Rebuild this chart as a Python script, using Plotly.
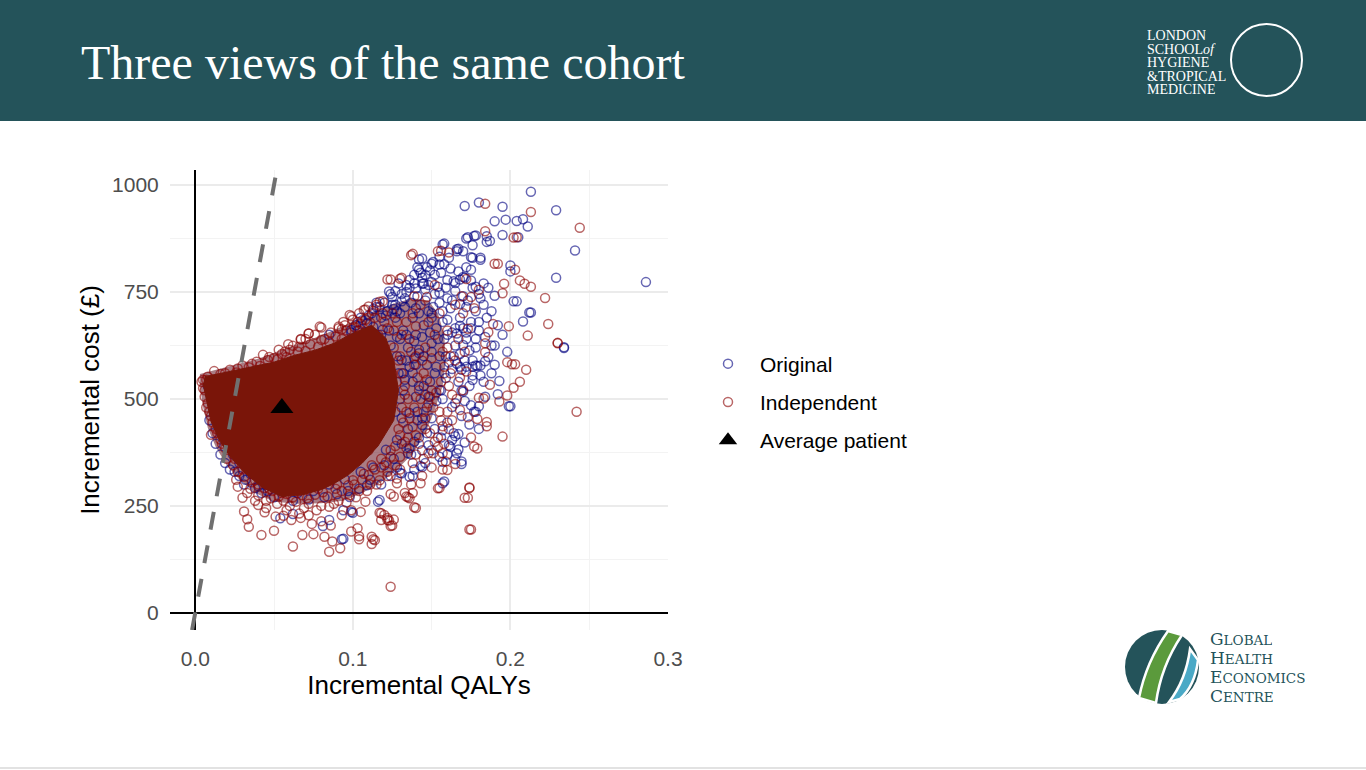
import plotly.graph_objects as go

# ---- data ----
# (incremental QALYs, incremental cost in £)
original_pts = [
    (0.213, 984), (0.171, 951), (0.180, 959), (0.195, 949), (0.229, 941), (0.190, 915), (0.197, 919),
    (0.204, 916), (0.208, 920), (0.211, 903), (0.172, 875), (0.177, 881), (0.195, 883), (0.185, 880),
    (0.187, 869), (0.185, 867), (0.205, 878), (0.157, 861), (0.166, 850), (0.170, 845), (0.176, 859),
    (0.241, 847), (0.229, 783), (0.286, 773), (0.200, 812), (0.200, 798), (0.176, 830), (0.181, 830),
    (0.181, 825), (0.190, 741), (0.202, 728), (0.204, 728), (0.212, 702), (0.213, 702), (0.208, 681),
    (0.234, 619), (0.142, 826), (0.142, 802), (0.150, 816), (0.155, 814), (0.161, 830), (0.166, 845),
    (0.167, 798), (0.172, 808), (0.175, 802), (0.171, 783), (0.164, 775), (0.168, 779), (0.159, 760),
    (0.155, 748), (0.148, 766), (0.144, 783), (0.146, 756), (0.139, 790), (0.145, 770), (0.152, 745),
    (0.160, 735), (0.165, 752), (0.170, 740), (0.176, 760), (0.180, 745), (0.183, 720), (0.178, 705),
    (0.172, 715), (0.162, 712), (0.155, 725), (0.148, 705), (0.141, 740), (0.136, 760), (0.133, 735),
    (0.140, 712), (0.150, 690), (0.160, 685), (0.168, 690), (0.175, 680), (0.185, 690), (0.188, 705),
    (0.192, 672), (0.180, 660), (0.170, 665), (0.163, 655), (0.153, 665), (0.145, 672), (0.138, 690),
    (0.130, 700), (0.127, 720), (0.132, 660), (0.140, 650), (0.158, 640), (0.172, 640), (0.184, 645),
    (0.195, 650), (0.190, 625), (0.178, 620), (0.165, 625), (0.150, 630), (0.142, 615), (0.155, 600),
    (0.168, 605), (0.176, 590), (0.186, 598), (0.198, 610), (0.178, 882), (0.173, 878), (0.158, 863),
    (0.167, 851), (0.175, 831), (0.144, 828), (0.141, 808), (0.147, 808), (0.151, 820), (0.155, 832),
    (0.134, 766), (0.134, 750), (0.140, 758), (0.144, 769), (0.125, 738), (0.115, 715), (0.125, 720),
    (0.131, 728), (0.128, 705), (0.099, 655), (0.103, 660), (0.108, 656), (0.115, 648), (0.119, 662),
    (0.150, 773), (0.154, 762), (0.160, 778), (0.165, 771), (0.170, 785), (0.175, 777), (0.178, 762),
    (0.234, 621), (0.193, 542), (0.192, 511), (0.184, 505), (0.199, 483), (0.200, 483), (0.180, 483),
    (0.178, 470), (0.167, 418), (0.171, 398), (0.167, 382), (0.161, 392), (0.163, 404), (0.165, 413),
    (0.157, 353), (0.165, 359), (0.169, 348), (0.157, 303), (0.143, 343), (0.139, 335), (0.169, 519),
    (0.170, 517), (0.181, 578), (0.179, 577), (0.176, 575), (0.188, 625), (0.181, 555), (0.166, 582),
    (0.168, 575), (0.148, 392), (0.144, 380), (0.135, 373), (0.159, 599), (0.166, 653), (0.176, 544),
    (0.177, 470), (0.169, 354), (0.166, 373), (0.164, 420), (0.158, 307), (0.100, 234), (0.094, 173),
    (0.085, 650), (0.109, 677), (0.099, 661), (0.115, 725), (0.123, 751), (0.093, 172), (0.081, 203),
    (0.085, 217), (0.094, 240), (0.099, 236), (0.054, 221), (0.062, 231), (0.116, 260), (0.025, 330),
    (0.032, 311), (0.040, 296), (0.046, 285), (0.131, 326), (0.136, 318), (0.163, 481), (0.157, 427),
    (0.162, 388), (0.144, 341), (0.130, 327), (0.117, 264), (0.144, 439), (0.136, 467), (0.148, 505),
    (0.155, 521), (0.138, 561), (0.131, 591), (0.142, 607), (0.153, 575), (0.159, 549), (0.128, 404),
    (0.121, 381), (0.111, 311), (0.098, 271), (0.150, 700), (0.157, 680), (0.168, 671), (0.172, 655),
    (0.178, 640), (0.170, 626), (0.174, 613), (0.164, 600), (0.171, 590), (0.178, 578), (0.169, 568),
    (0.176, 555), (0.012, 470), (0.015, 440), (0.018, 420), (0.021, 398), (0.024, 370), (0.028, 350),
    (0.035, 325), (0.045, 300), (0.055, 285), (0.065, 280), (0.075, 285), (0.085, 300), (0.095, 312),
    (0.105, 330), (0.010, 505), (0.008, 530), (0.105, 690), (0.112, 700), (0.118, 690), (0.122, 705),
    (0.127, 690), (0.110, 640), (0.117, 630), (0.124, 625), (0.130, 640), (0.135, 620), (0.128, 600),
    (0.134, 590), (0.140, 580), (0.132, 560), (0.138, 540), (0.145, 530), (0.140, 505), (0.132, 520),
    (0.147, 480), (0.150, 455), (0.141, 450), (0.135, 430), (0.152, 430), (0.142, 410), (0.131, 395),
    (0.137, 370), (0.126, 360), (0.120, 345), (0.113, 340), (0.102, 672), (0.106, 684), (0.110, 695),
    (0.113, 710), (0.117, 715), (0.120, 725), (0.124, 745), (0.127, 752), (0.131, 745), (0.129, 770),
    (0.136, 778), (0.139, 770), (0.143, 795), (0.146, 790), (0.149, 800), (0.152, 790), (0.156, 795),
    (0.162, 805), (0.158, 815), (0.121, 695), (0.126, 710), (0.133, 715), (0.137, 725), (0.142, 700),
    (0.146, 730), (0.151, 715), (0.157, 705), (0.163, 730), (0.168, 722), (0.173, 730), (0.181, 735),
    (0.186, 760), (0.183, 770), (0.113, 668), (0.118, 650), (0.123, 660), (0.128, 645), (0.134, 650),
    (0.139, 635), (0.144, 645), (0.149, 655), (0.154, 640), (0.160, 650), (0.165, 665), (0.175, 665),
    (0.180, 680), (0.145, 600), (0.150, 610), (0.147, 580), (0.152, 560), (0.158, 560), (0.163, 570),
    (0.161, 585), (0.172, 575), (0.184, 588), (0.190, 580), (0.188, 560), (0.183, 540), (0.174, 530),
    (0.167, 540), (0.157, 500), (0.165, 490), (0.171, 495), (0.175, 485), (0.169, 460), (0.174, 440),
    (0.180, 430), (0.160, 445), (0.156, 410), (0.150, 380), (0.155, 365), (0.160, 370), (0.146, 350),
    (0.138, 320), (0.128, 340), (0.124, 320), (0.118, 300), (0.109, 298), (0.104, 290), (0.097, 285),
    (0.090, 278), (0.082, 270), (0.072, 265), (0.062, 262), (0.050, 270), (0.042, 280), (0.038, 292),
    (0.031, 300), (0.028, 320), (0.022, 335), (0.019, 350), (0.016, 370), (0.013, 395), (0.011, 420),
    (0.009, 450), (0.127, 470), (0.130, 500), (0.133, 545), (0.136, 575), (0.139, 595), (0.129, 560),
    (0.141, 470), (0.144, 455), (0.147, 420), (0.139, 400), (0.136, 385), (0.131, 455), (0.142, 530),
    (0.146, 510), (0.149, 540), (0.153, 495), (0.156, 520),
]

independent_pts = [
    (0.184, 956), (0.213, 937), (0.244, 900), (0.184, 892), (0.202, 877), (0.204, 878), (0.190, 816),
    (0.192, 816), (0.203, 802), (0.206, 777), (0.209, 769), (0.213, 762), (0.222, 736), (0.137, 836),
    (0.154, 845), (0.122, 779), (0.130, 781), (0.195, 747), (0.196, 769), (0.180, 755), (0.199, 670),
    (0.211, 648), (0.224, 675), (0.230, 630), (0.184, 630), (0.184, 609), (0.189, 675), (0.186, 656),
    (0.173, 664), (0.177, 712), (0.169, 740), (0.242, 470), (0.230, 631), (0.198, 586), (0.201, 581),
    (0.203, 581), (0.210, 568), (0.206, 540), (0.202, 526), (0.198, 508), (0.193, 494), (0.187, 533),
    (0.195, 412), (0.179, 384), (0.175, 410), (0.185, 446), (0.185, 436), (0.179, 453), (0.173, 457),
    (0.174, 293), (0.173, 269), (0.174, 195), (0.154, 291), (0.160, 334), (0.124, 61), (0.139, 247),
    (0.137, 300), (0.143, 303), (0.134, 272), (0.136, 268), (0.124, 203), (0.122, 217), (0.124, 278),
    (0.120, 229), (0.118, 233), (0.128, 303), (0.128, 314), (0.154, 410), (0.180, 503), (0.183, 501),
    (0.148, 373), (0.154, 388), (0.157, 373), (0.165, 348), (0.138, 839), (0.124, 779), (0.131, 783),
    (0.139, 740), (0.108, 709), (0.113, 706), (0.099, 693), (0.080, 667), (0.072, 653), (0.067, 640),
    (0.091, 665), (0.095, 672), (0.152, 766), (0.147, 738), (0.117, 727), (0.156, 846), (0.161, 842),
    (0.172, 780), (0.175, 738), (0.170, 700), (0.165, 720), (0.079, 669), (0.072, 653), (0.076, 650),
    (0.080, 638), (0.067, 639), (0.062, 624), (0.057, 611), (0.065, 611), (0.043, 603), (0.039, 587),
    (0.046, 591), (0.050, 595), (0.098, 696), (0.103, 680), (0.107, 708), (0.110, 716), (0.115, 720),
    (0.119, 728), (0.091, 669), (0.093, 663), (0.008, 552), (0.019, 560), (0.027, 571), (0.034, 574),
    (0.030, 269), (0.031, 237), (0.033, 219), (0.034, 201), (0.042, 182), (0.050, 192), (0.062, 155),
    (0.068, 182), (0.075, 184), (0.082, 178), (0.085, 143), (0.092, 151), (0.087, 167), (0.099, 190),
    (0.103, 198), (0.104, 172), (0.112, 178), (0.114, 170), (0.112, 161), (0.118, 217), (0.123, 216),
    (0.125, 204), (0.061, 217), (0.067, 222), (0.074, 208), (0.080, 214), (0.086, 204), (0.093, 228),
    (0.040, 252), (0.045, 245), (0.051, 225), (0.056, 227), (0.099, 240), (0.105, 236), (0.108, 260),
    (0.126, 272), (0.133, 280), (0.135, 270), (0.026, 311), (0.027, 295), (0.010, 416), (0.140, 245),
    (0.175, 195), (0.171, 269), (0.174, 292), (0.172, 564), (0.171, 610), (0.168, 474), (0.177, 389),
    (0.159, 354), (0.157, 335), (0.151, 373), (0.157, 436), (0.155, 292), (0.138, 280), (0.126, 218),
    (0.117, 234), (0.122, 222), (0.104, 179), (0.113, 172), (0.125, 560), (0.130, 600), (0.128, 540),
    (0.133, 510), (0.131, 480), (0.136, 455), (0.129, 430), (0.133, 400), (0.124, 380), (0.118, 360),
    (0.112, 345), (0.107, 325), (0.100, 310), (0.090, 300), (0.078, 290), (0.066, 285), (0.055, 280),
    (0.047, 290), (0.038, 310), (0.030, 335), (0.025, 360), (0.019, 385), (0.014, 420), (0.010, 460),
    (0.008, 490), (0.006, 520), (0.007, 545), (0.140, 600), (0.145, 560), (0.142, 520), (0.148, 490),
    (0.145, 470), (0.150, 520), (0.156, 540), (0.162, 560), (0.158, 575), (0.150, 595), (0.146, 620),
    (0.136, 640), (0.126, 660), (0.120, 680), (0.104, 700), (0.128, 680), (0.140, 670), (0.152, 650),
    (0.160, 620), (0.165, 590), (0.168, 550), (0.163, 510), (0.160, 470), (0.156, 450), (0.146, 430),
    (0.140, 415), (0.152, 400), (0.145, 360), (0.138, 350), (0.130, 335), (0.122, 320), (0.115, 300),
    (0.109, 285), (0.102, 270), (0.096, 258), (0.088, 255), (0.080, 250), (0.072, 255), (0.064, 260),
    (0.056, 262), (0.048, 268), (0.040, 275), (0.035, 290), (0.110, 380), (0.117, 420),
    (0.012, 565), (0.016, 558), (0.022, 568), (0.026, 562), (0.030, 578), (0.036, 582), (0.041, 577),
    (0.047, 598), (0.052, 592), (0.055, 605), (0.058, 598), (0.060, 615), (0.066, 622), (0.070, 612),
    (0.073, 628), (0.078, 622), (0.082, 640), (0.085, 633), (0.089, 646), (0.093, 640), (0.096, 660),
    (0.101, 668), (0.104, 660), (0.108, 685), (0.111, 678), (0.114, 690), (0.053, 615), (0.059, 628),
    (0.070, 640), (0.086, 655), (0.094, 680), (0.100, 685), (0.105, 675), (0.020, 360), (0.024, 345),
    (0.027, 330), (0.031, 318), (0.036, 305), (0.040, 300), (0.044, 292), (0.049, 285), (0.053, 272),
    (0.058, 278), (0.062, 270), (0.068, 275), (0.071, 268), (0.076, 276), (0.081, 282), (0.084, 272),
    (0.089, 290), (0.093, 285), (0.097, 298), (0.101, 300), (0.106, 312), (0.110, 322), (0.114, 335),
    (0.118, 340), (0.045, 262), (0.052, 255), (0.060, 250), (0.069, 245), (0.077, 240), (0.085, 248),
    (0.091, 262), (0.098, 275), (0.104, 285), (0.111, 300), (0.117, 310), (0.122, 330), (0.033, 280),
    (0.038, 262), (0.044, 235), (0.058, 240), (0.066, 232), (0.072, 228), (0.005, 545), (0.005, 525),
    (0.006, 505), (0.007, 480), (0.009, 470), (0.011, 445), (0.013, 430), (0.016, 405), (0.017, 395),
    (0.004, 540), (0.126, 620), (0.129, 590), (0.131, 560), (0.133, 530), (0.135, 500), (0.134, 470),
    (0.132, 445), (0.130, 415), (0.127, 390), (0.124, 365), (0.121, 352), (0.137, 610), (0.139, 580),
    (0.141, 550), (0.143, 500), (0.139, 480), (0.138, 435), (0.135, 410), (0.134, 385), (0.130, 365),
    (0.127, 345), (0.144, 590), (0.147, 545), (0.149, 505), (0.146, 455), (0.142, 395), (0.140, 370),
    (0.151, 480), (0.153, 515), (0.155, 470), (0.149, 420), (0.144, 320), (0.150, 340), (0.158, 395),
    (0.161, 430), (0.163, 450), (0.166, 500), (0.170, 520), (0.161, 530), (0.116, 650), (0.122, 665),
    (0.119, 700), (0.125, 700), (0.131, 650), (0.134, 680), (0.138, 700), (0.143, 720), (0.148, 680),
    (0.155, 700), (0.160, 660), (0.167, 640), (0.162, 600), (0.157, 610),
]

# outline of the solid, over-plotted mass of points
core_outline = [
    (0.006, 552), (0.018, 562), (0.032, 572), (0.050, 586), (0.063, 602), (0.076, 614), (0.088, 630),
    (0.099, 652), (0.112, 672), (0.121, 642), (0.126, 590), (0.129, 520), (0.126, 450), (0.116, 390),
    (0.106, 350), (0.097, 322), (0.088, 302), (0.080, 288), (0.068, 276), (0.055, 272), (0.043, 292),
    (0.032, 325), (0.022, 366), (0.015, 405), (0.010, 448), (0.007, 500), (0.005, 535),
]

# outline of the dense, partly over-plotted fringe around it
fringe_outline = [
    (0.003, 558), (0.020, 574), (0.040, 594), (0.060, 622), (0.080, 648), (0.095, 672), (0.110, 700),
    (0.125, 722), (0.138, 735), (0.148, 730), (0.154, 700), (0.158, 650), (0.159, 590), (0.157, 530),
    (0.152, 475), (0.146, 420), (0.138, 372), (0.128, 335), (0.118, 305), (0.106, 280), (0.094, 262),
    (0.080, 256), (0.065, 255), (0.050, 260), (0.038, 280), (0.028, 312), (0.020, 345), (0.013, 388),
    (0.008, 432), (0.005, 482), (0.003, 530),
]

avg_qaly = [0.055]
avg_cost = [479]

wtp = 20000  # £ per QALY threshold (dashed line)
x_ticks = [0.0, 0.1, 0.2, 0.3]
y_ticks = [0, 250, 500, 750, 1000]

TEAL = "#24535A"
NAVY = "rgba(0,0,128,0.6)"
DRED = "rgba(139,0,0,0.6)"
CORE = "#7a1509"
FRINGE = "rgba(100,18,32,0.55)"

# plot area in pixels: x 170..668, y 170..630
L, R, T, B = 170, 668, 170, 630


def px(x):
    return (x - L) / (R - L)


def py(y):
    return (B - y) / (B - T)


def P(x, y):
    return "%.4f,%.4f" % (px(x), py(y))


fig = go.Figure()

fig.add_trace(go.Scatter(
    x=[p[0] for p in fringe_outline], y=[p[1] for p in fringe_outline],
    mode="lines", fill="toself", fillcolor=FRINGE, line=dict(width=0),
    showlegend=False, hoverinfo="skip"))

fig.add_trace(go.Scatter(
    x=[p[0] for p in original_pts], y=[p[1] for p in original_pts],
    mode="markers", name="Original", legendgroup="a",
    marker=dict(symbol="circle-open", size=9, color=NAVY, line=dict(width=1.5)),
    hoverinfo="skip"))

fig.add_trace(go.Scatter(
    x=[p[0] for p in independent_pts], y=[p[1] for p in independent_pts],
    mode="markers", name="Independent", legendgroup="b",
    marker=dict(symbol="circle-open", size=9, color=DRED, line=dict(width=1.5)),
    hoverinfo="skip"))

fig.add_trace(go.Scatter(
    x=[p[0] for p in core_outline], y=[p[1] for p in core_outline],
    mode="lines", fill="toself", fillcolor=CORE, line=dict(color=CORE, width=1),
    showlegend=False, hoverinfo="skip"))

y_lo, y_hi = -40, 1035
fig.add_trace(go.Scatter(
    x=[y_lo / wtp, y_hi / wtp], y=[y_lo, y_hi], mode="lines",
    line=dict(color="#707070", width=4, dash="18px,16px"),
    showlegend=False, hoverinfo="skip"))

fig.add_trace(go.Scatter(
    x=avg_qaly, y=avg_cost, mode="markers", name="Average patient", legendgroup="c",
    marker=dict(symbol="triangle-up", size=20, color="black"),
    hoverinfo="skip"))

shapes = [
    dict(type="rect", xref="paper", yref="paper", x0=px(0), x1=px(1366), y0=py(0), y1=py(121),
         fillcolor=TEAL, line=dict(width=0), layer="above"),
    dict(type="line", xref="paper", yref="paper", x0=px(0), x1=px(1366), y0=py(768), y1=py(768),
         line=dict(color="#d9d9d9", width=1.5)),
    # LSHTM roundel
    dict(type="circle", xref="paper", yref="paper", x0=px(1231), x1=px(1302), y0=py(24), y1=py(96),
         line=dict(color="white", width=2), layer="above"),
    # GHEC roundel
    dict(type="circle", xref="paper", yref="paper", x0=px(1125), x1=px(1199), y0=py(630), y1=py(704),
         fillcolor=TEAL, line=dict(width=0)),
    dict(type="path", xref="paper", yref="paper",
         path="M %s Q %s %s L %s Q %s %s Z" % (P(1139, 698), P(1146, 662), P(1168, 631),
                                              P(1182, 635), P(1161, 666), P(1156, 703)),
         fillcolor="#5b9a3c", line=dict(color="white", width=2.5)),
    dict(type="path", xref="paper", yref="paper",
         path="M %s Q %s %s L %s Q %s %s Z" % (P(1169, 702), P(1186, 680), P(1190, 649),
                                              P(1198, 660), P(1195, 686), P(1180, 699)),
         fillcolor="#4aa9c6", line=dict(color="white", width=2.5)),
]

annotations = [
    dict(text="Three views of the same cohort", x=px(79), y=py(63), xanchor="left", yanchor="middle",
         font=dict(family="Liberation Serif", size=48, color="white")),
]

lshtm_lines = ["LONDON", "SCHOOL<i>of</i>", "HYGIENE", "&amp;TROPICAL", "MEDICINE"]
for i, t in enumerate(lshtm_lines):
    annotations.append(dict(text=t, x=px(1145), y=py(36 + 13.5 * i), xanchor="left", yanchor="middle",
                            height=13, font=dict(family="Liberation Serif", size=14, color="white")))

ghec_lines = ["GLOBAL", "HEALTH", "ECONOMICS", "CENTRE"]
for i, t in enumerate(ghec_lines):
    txt = t[0] + "<span style='font-size:13.5px'>" + t[1:] + "</span>"
    annotations.append(dict(text=txt, x=px(1208), y=py(639 + 19 * i), xanchor="left", yanchor="middle",
                            height=18, font=dict(family="DejaVu Serif", size=17, color=TEAL)))

for a in annotations:
    a.update(xref="paper", yref="paper", showarrow=False)

fig.update_layout(
    width=1366, height=770,
    margin=dict(l=L, r=1366 - R, t=T, b=770 - B),
    paper_bgcolor="white", plot_bgcolor="white",
    font=dict(family="Liberation Sans", color="black"),
    shapes=shapes, annotations=annotations,
    legend=dict(x=px(696), y=py(402), xanchor="left", yanchor="middle", itemwidth=54,
                font=dict(size=21, color="black"), tracegroupgap=8, bgcolor="rgba(0,0,0,0)"),
    xaxis=dict(range=[-0.016, 0.3], tickvals=x_ticks, tickformat=".1f",
               showgrid=True, gridcolor="#ebebeb", gridwidth=2,
               minor=dict(dtick=0.05, showgrid=True, gridcolor="#f3f3f3", gridwidth=1),
               zeroline=True, zerolinecolor="black", zerolinewidth=2,
               ticks="outside", ticklen=10, tickcolor="rgba(0,0,0,0)",
               tickfont=dict(size=21, color="#4d4d4d"),
               title=dict(text="Incremental QALYs", font=dict(size=26, color="black"), standoff=6)),
    yaxis=dict(range=[y_lo, y_hi], tickvals=y_ticks,
               showgrid=True, gridcolor="#ebebeb", gridwidth=2,
               minor=dict(dtick=125, showgrid=True, gridcolor="#f3f3f3", gridwidth=1),
               zeroline=True, zerolinecolor="black", zerolinewidth=2,
               ticks="outside", ticklen=6, tickcolor="rgba(0,0,0,0)",
               tickfont=dict(size=21, color="#4d4d4d"),
               title=dict(text="Incremental cost (£)", font=dict(size=26, color="black"), standoff=4)),
)

fig.write_html("out.html", config={"displayModeBar": False},
               post_script="document.body.style.margin='0';")
